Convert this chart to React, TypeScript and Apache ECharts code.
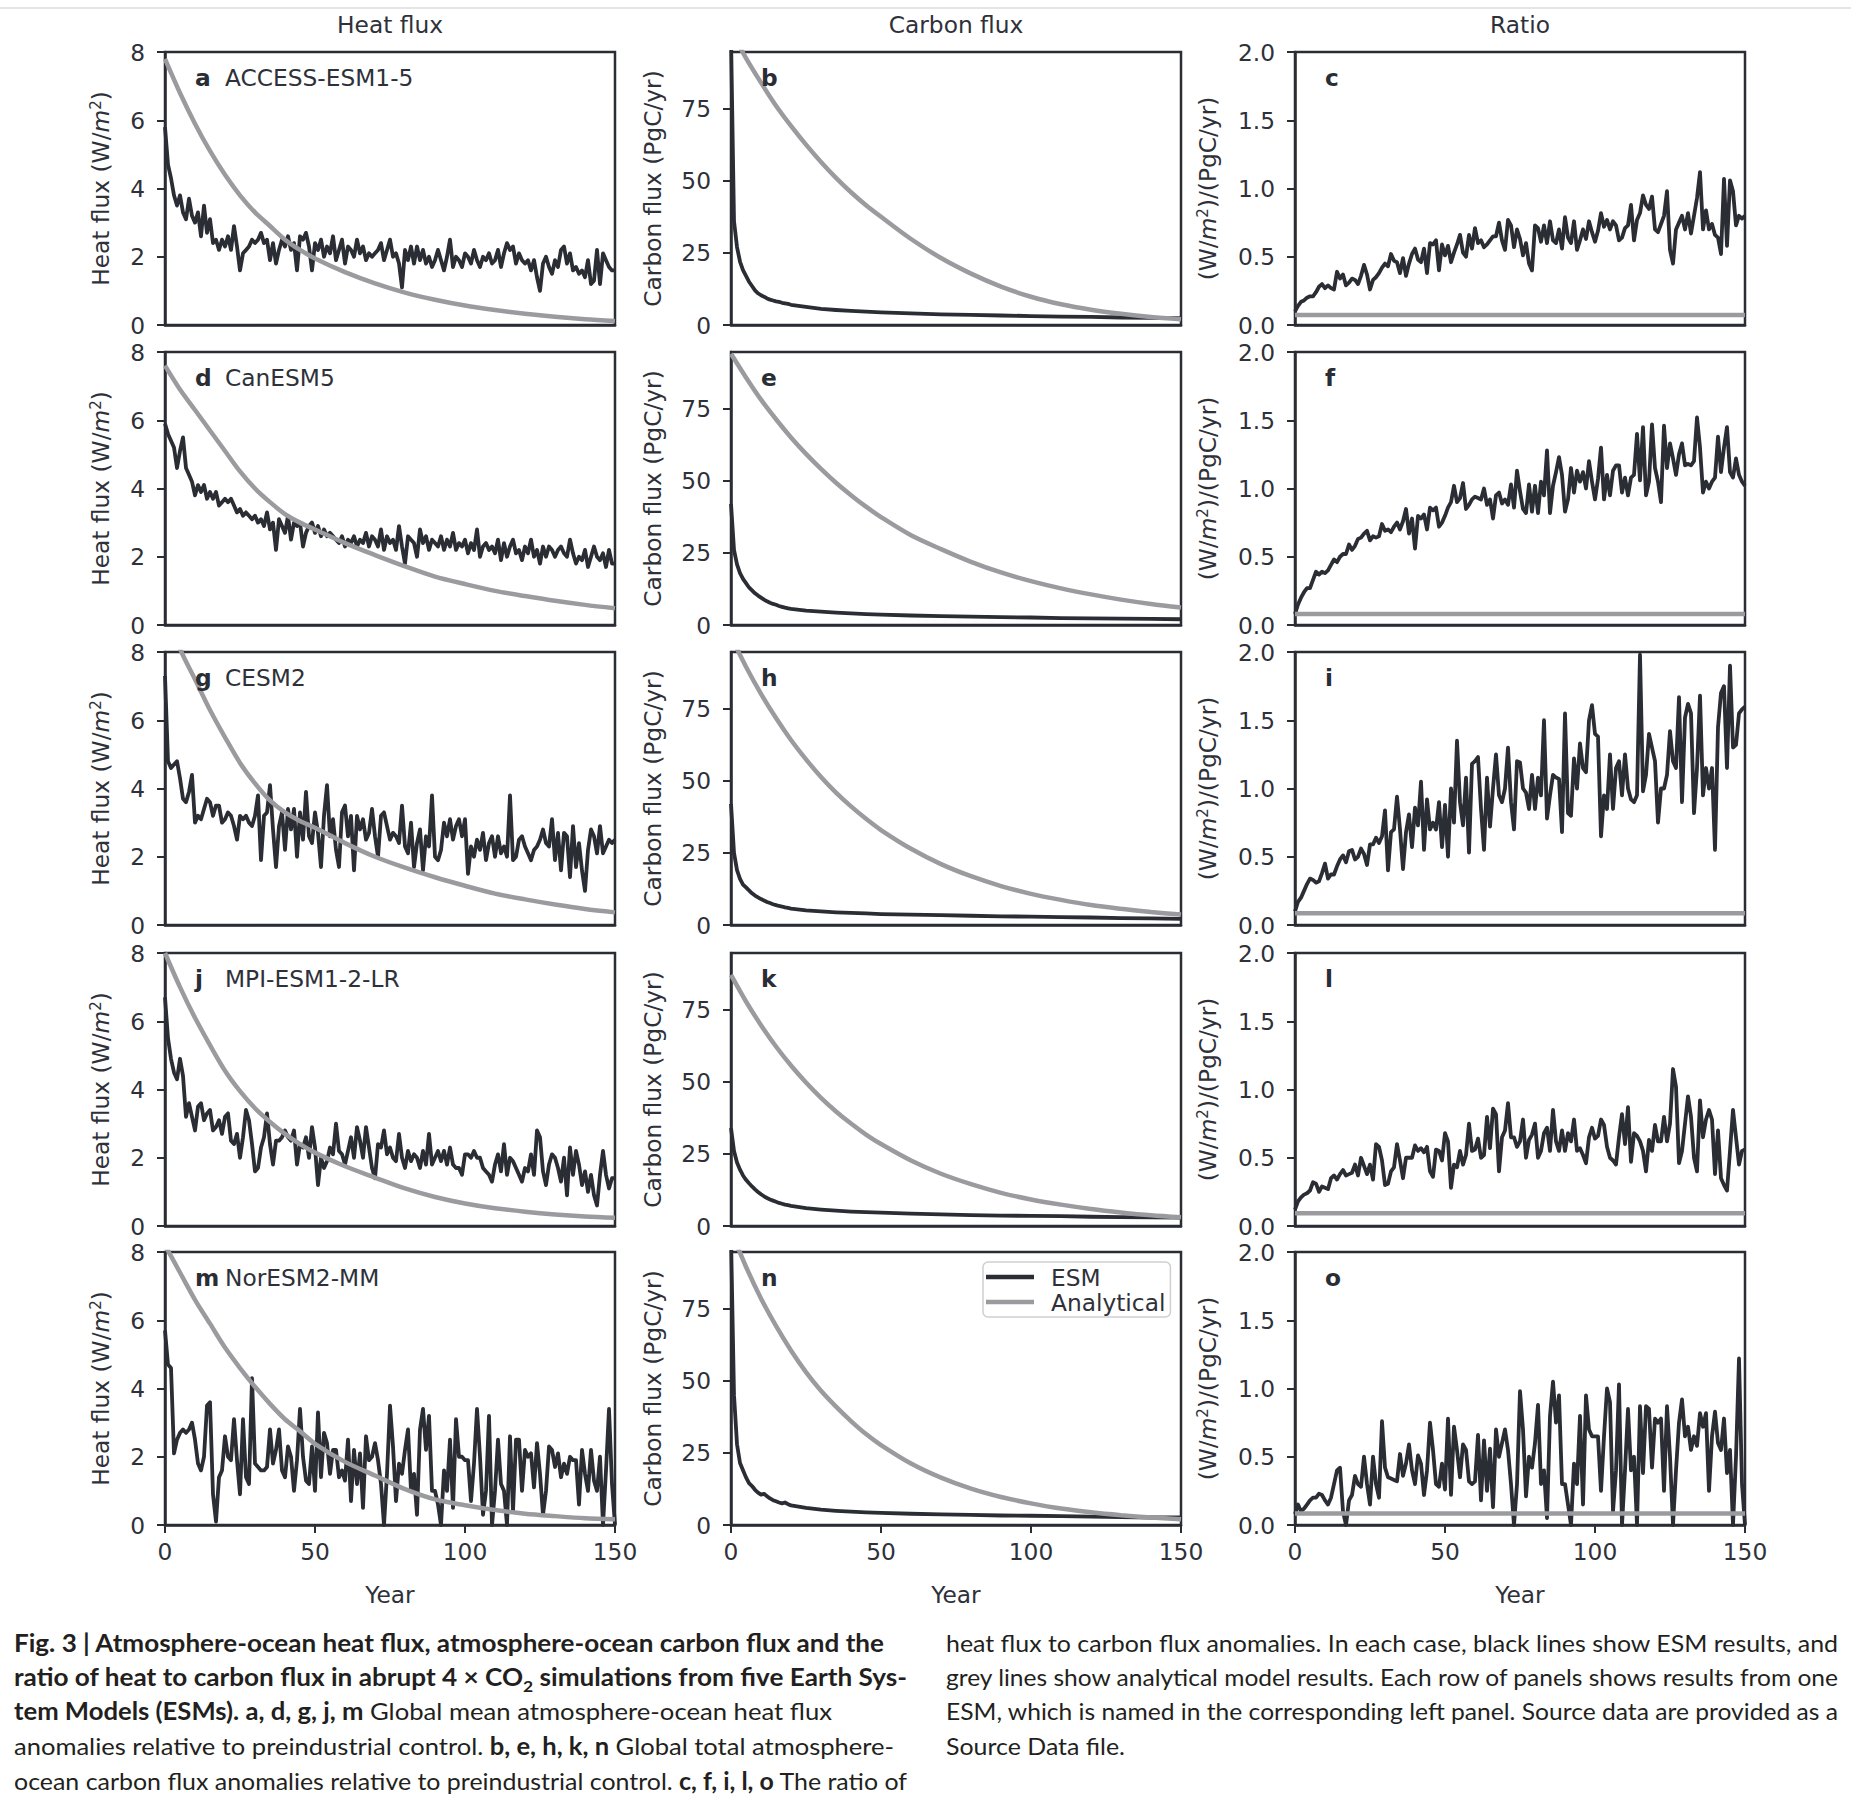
import React, { useEffect, useRef } from "react";
import * as echarts from "echarts";

// ---------- axis ticks ----------
const YEAR_TICKS = [0, 50, 100, 150];
const HEAT_TICKS = [0, 2, 4, 6, 8];
const CARBON_TICKS = [0, 25, 50, 75];
const RATIO_TICKS = [0, 0.5, 1.0, 1.5, 2.0];

// ---------- x positions ----------
const YEARS = Array.from({ length: 151 }, (_, i) => i);
const ANA_YEARS = [0, 5, 10, 15, 20, 25, 30, 35, 40, 45, 50, 60, 70, 80, 90, 100, 110, 120, 130, 140, 150];
const CARB_YEARS = [0, 1, 2, 3, 4, 5, 6, 7, 8, 9, 10, 11, 12, 13, 14, 15, 16, 17, 18, 19, 20, 25, 30, 35, 40, 45, 50, 60, 70, 80, 90, 100, 110, 120, 130, 140, 150];
const RATIO_ANA_YEARS = [0, 150];

// ---------- heat flux (W/m2), ESM ----------
const HEAT_ACCESS = [
  5.8, 4.7, 4.3, 3.8, 3.5, 3.8, 3.3, 3.1, 3.7, 3.2,
  3.0, 3.3, 2.6, 3.5, 2.7, 3.1, 2.4, 2.5, 2.2, 2.5,
  2.3, 2.6, 2.2, 2.9, 2.3, 1.6, 2.1, 2.2, 2.3, 2.5,
  2.4, 2.5, 2.7, 2.4, 2.5, 1.9, 2.4, 1.8, 2.2, 2.5,
  2.3, 2.6, 2.2, 2.4, 1.6, 2.6, 2.5, 2.7, 2.3, 1.6,
  2.4, 2.2, 2.5, 2.0, 2.3, 2.1, 2.6, 1.9, 2.2, 2.5,
  1.8, 2.3, 2.2, 2.0, 2.5, 2.1, 2.3, 1.9, 2.1, 2.0,
  2.1, 2.2, 2.4, 1.9, 2.2, 2.5, 2.0, 2.1, 1.8, 1.1,
  2.2, 1.9, 2.3, 1.8, 2.3, 1.9, 2.2, 1.8, 2.0, 1.7,
  1.9, 2.2, 1.9, 1.6, 2.0, 2.5, 1.7, 2.0, 1.9, 1.7,
  2.1, 2.0, 1.8, 2.2, 1.9, 1.7, 2.0, 1.9, 2.1, 1.8,
  1.9, 2.2, 1.7, 2.1, 2.4, 2.2, 2.3, 1.8, 2.1, 1.9,
  1.8, 1.9, 1.6, 1.9, 1.4, 1.0, 1.8, 2.0, 1.7, 1.5,
  1.9, 1.7, 2.2, 2.3, 1.8, 2.1, 1.6, 1.7, 1.5, 1.6,
  1.4, 1.9, 1.2, 1.3, 2.2, 1.2, 2.1, 1.9, 1.7, 1.6,
  1.6,
];
const HEAT_CAN = [
  5.9, 5.6, 5.4, 5.2, 4.6, 5.1, 5.5, 4.6, 4.4, 4.2,
  3.8, 4.1, 3.9, 4.1, 3.7, 3.9, 3.7, 3.9, 3.5, 3.6,
  3.7, 3.6, 3.7, 3.5, 3.3, 3.4, 3.2, 3.3, 3.2, 3.1,
  3.2, 3.0, 3.1, 2.9, 3.3, 2.8, 3.0, 2.2, 3.1, 2.9,
  2.7, 3.2, 2.5, 3.0, 2.9, 3.0, 2.3, 2.7, 2.9, 3.0,
  2.7, 2.9, 2.6, 2.8, 2.6, 2.7, 2.6, 2.5, 2.4, 2.6,
  2.3, 2.5, 2.4, 2.6, 2.3, 2.5, 2.4, 2.7, 2.3, 2.6,
  2.5, 2.3, 2.8, 2.2, 2.6, 2.4, 2.5, 2.2, 2.9, 2.3,
  1.8, 2.6, 2.5, 2.4, 2.0, 2.8, 2.4, 2.6, 2.2, 2.5,
  2.4, 2.3, 2.6, 2.2, 2.5, 2.3, 2.7, 2.2, 2.4, 2.3,
  2.5, 2.1, 2.4, 2.2, 2.8, 2.0, 2.3, 2.4, 2.2, 2.3,
  2.1, 2.5, 1.9, 2.4, 2.0, 2.3, 2.5, 2.1, 2.2, 1.9,
  2.3, 2.1, 2.5, 2.0, 2.2, 1.8, 2.3, 2.0, 2.3, 2.2,
  2.0, 2.2, 2.3, 2.1, 2.0, 2.5, 2.1, 1.8, 2.0, 1.9,
  2.2, 1.7, 2.0, 2.3, 2.0, 1.9, 2.1, 1.7, 2.2, 1.8,
  1.8,
];
const HEAT_CESM = [
  7.3, 4.8, 4.6, 4.7, 4.8, 4.3, 3.7, 3.6, 3.9, 4.4,
  3.0, 3.2, 3.1, 3.4, 3.7, 3.6, 3.2, 3.5, 3.5, 3.0,
  3.1, 3.3, 3.2, 2.9, 2.5, 3.2, 3.1, 3.2, 3.0, 2.9,
  3.2, 3.8, 1.9, 3.2, 3.3, 4.1, 2.8, 1.7, 2.9, 3.3,
  2.2, 3.4, 2.8, 3.4, 2.0, 3.3, 2.5, 3.9, 2.6, 2.4,
  3.3, 2.7, 1.7, 3.2, 4.1, 2.6, 3.1, 2.2, 1.7, 3.3,
  3.5, 2.6, 3.2, 1.6, 3.2, 2.8, 3.1, 2.5, 2.7, 3.4,
  2.6, 2.0, 3.2, 3.3, 2.9, 2.5, 2.7, 2.6, 2.4, 3.5,
  2.3, 2.1, 3.0, 1.7, 2.4, 2.8, 1.6, 2.6, 2.3, 3.8,
  2.0, 1.9, 2.2, 3.0, 2.6, 3.1, 2.5, 2.9, 3.1, 2.6,
  3.1, 1.5, 2.3, 2.0, 2.5, 2.2, 2.7, 1.9, 2.4, 2.6,
  2.0, 2.6, 2.1, 2.3, 2.0, 3.8, 1.9, 2.0, 2.5, 2.6,
  2.3, 2.1, 1.9, 2.2, 2.3, 2.5, 2.8, 2.4, 2.3, 3.1,
  1.9, 2.7, 1.6, 2.7, 2.6, 1.4, 2.9, 1.7, 2.4, 1.6,
  1.0, 2.2, 2.8, 2.6, 2.1, 2.9, 2.1, 2.3, 2.5, 2.4,
  2.5,
];
const HEAT_MPI = [
  6.7, 5.5, 4.9, 4.5, 4.3, 4.9, 4.4, 3.2, 3.6, 3.2,
  2.8, 3.5, 3.6, 3.1, 3.3, 3.4, 2.8, 2.9, 3.1, 2.7,
  3.2, 3.3, 2.5, 2.4, 2.7, 2.0, 2.6, 3.4, 3.1, 2.4,
  1.6, 1.7, 2.3, 2.6, 3.3, 2.4, 1.8, 2.5, 2.5, 2.6,
  2.8, 2.6, 2.5, 2.8, 1.8, 2.4, 2.3, 2.6, 2.0, 2.9,
  2.3, 1.2, 2.0, 1.7, 1.9, 2.3, 2.1, 3.0, 2.2, 2.1,
  1.8, 2.2, 2.6, 2.0, 2.9, 2.5, 2.0, 2.9, 2.3, 1.7,
  1.4, 2.4, 2.3, 2.8, 2.1, 2.3, 2.0, 1.9, 2.7, 2.0,
  1.7, 2.2, 1.9, 2.1, 2.0, 1.7, 2.2, 1.8, 2.7, 1.8,
  2.0, 2.2, 1.9, 2.2, 1.8, 2.3, 1.8, 1.7, 1.7, 1.5,
  2.1, 2.1, 2.0, 2.2, 2.0, 2.0, 1.7, 1.6, 1.5, 1.3,
  1.8, 2.1, 1.6, 2.4, 1.5, 2.0, 1.9, 1.7, 1.5, 1.3,
  1.7, 1.6, 2.1, 1.5, 2.8, 2.6, 1.6, 1.2, 1.8, 2.1,
  2.0, 1.7, 1.3, 2.0, 0.9, 2.3, 1.5, 2.2, 1.8, 1.2,
  1.6, 1.0, 1.5, 0.9, 0.6, 1.5, 2.2, 1.5, 1.1, 1.4,
  1.4,
];
const HEAT_NOR = [
  5.7, 4.7, 4.6, 2.1, 2.5, 2.7, 2.8, 2.7, 2.8, 3.0,
  2.5, 1.8, 1.6, 2.0, 3.5, 3.6, 0.9, 0.1, 1.4, 1.6,
  2.6, 2.0, 1.9, 3.1, 1.9, 0.9, 3.1, 1.4, 1.2, 4.3,
  1.8, 1.7, 1.6, 1.6, 1.7, 2.8, 1.8, 2.2, 2.8, 1.6,
  1.4, 2.3, 2.0, 1.0, 1.9, 3.4, 2.0, 1.3, 1.2, 2.3,
  1.0, 3.3, 1.4, 2.7, 2.4, 1.5, 2.2, 2.2, 1.4, 1.6,
  1.3, 2.5, 0.7, 2.2, 1.2, 2.1, 0.5, 2.6, 1.9, 2.0,
  2.4, 1.9, 1.2, 0.0, 1.5, 3.5, 2.3, 0.7, 1.8, 1.5,
  2.2, 2.8, 1.0, 1.5, 0.3, 2.8, 3.4, 2.2, 3.2, 1.0,
  1.0, 0.6, 0.0, 1.6, 1.0, 2.5, 0.5, 3.1, 2.0, 2.0,
  1.9, 1.9, 0.7, 1.8, 3.4, 2.0, 0.3, 1.0, 3.2, 0.0,
  1.0, 2.5, 1.2, 1.0, 0.0, 2.6, 0.4, 2.5, 2.5, 1.0,
  2.2, 2.0, 2.1, 1.1, 2.4, 1.5, 0.3, 1.0, 2.3, 2.2,
  1.7, 2.1, 1.4, 1.8, 1.5, 2.0, 1.9, 1.9, 0.6, 2.2,
  1.5, 1.0, 2.2, 1.3, 1.0, 2.0, 0.0, 1.6, 3.4, 1.2,
  0.0,
];

// ---------- heat flux, analytical ----------
const HEAT_ANA_ACCESS = [7.8, 6.8, 5.9, 5.1, 4.4, 3.8, 3.3, 2.9, 2.5, 2.2, 1.95, 1.55, 1.22, 0.95, 0.74, 0.57, 0.44, 0.33, 0.24, 0.17, 0.12];
const HEAT_ANA_CAN = [7.6, 6.9, 6.3, 5.7, 5.1, 4.5, 4.0, 3.6, 3.25, 3.0, 2.8, 2.4, 2.05, 1.72, 1.42, 1.2, 1.0, 0.85, 0.71, 0.59, 0.49];
const HEAT_ANA_CESM = [9.4, 8.1, 7.2, 6.3, 5.5, 4.75, 4.15, 3.65, 3.3, 3.05, 2.85, 2.4, 2.0, 1.68, 1.4, 1.15, 0.92, 0.75, 0.6, 0.47, 0.37];
const HEAT_ANA_MPI = [8.0, 7.0, 6.1, 5.3, 4.55, 3.95, 3.45, 3.05, 2.7, 2.4, 2.15, 1.75, 1.42, 1.1, 0.85, 0.66, 0.52, 0.42, 0.34, 0.28, 0.24];
const HEAT_ANA_NOR = [8.2, 7.4, 6.6, 5.9, 5.2, 4.6, 4.05, 3.55, 3.1, 2.75, 2.38, 1.85, 1.45, 1.05, 0.75, 0.58, 0.44, 0.33, 0.26, 0.2, 0.17];

// ---------- carbon flux (PgC/yr), ESM ----------
const CARBON_ACCESS = [100, 36, 27, 22, 19, 17, 15, 13.5, 12, 11, 10.3, 9.8, 9.2, 8.8, 8.5, 8.2, 8.0, 7.7, 7.5, 7.3, 7.0, 6.3, 5.6, 5.2, 4.9, 4.6, 4.4, 4.0, 3.7, 3.5, 3.3, 3.1, 2.9, 2.8, 2.6, 2.5, 2.4];
const CARBON_CAN = [42, 26, 21, 18, 16, 14.5, 13, 12, 11, 10.2, 9.5, 8.8, 8.2, 7.7, 7.3, 7.0, 6.6, 6.3, 6.0, 5.8, 5.6, 5.0, 4.6, 4.3, 4.0, 3.8, 3.6, 3.3, 3.1, 2.9, 2.7, 2.6, 2.4, 2.3, 2.2, 2.1, 2.0];
const CARBON_CESM = [42, 25, 19, 16, 14, 13, 12, 11, 10.2, 9.6, 9.0, 8.5, 8.0, 7.6, 7.2, 6.9, 6.6, 6.4, 6.1, 5.9, 5.7, 5.1, 4.7, 4.4, 4.2, 4.0, 3.8, 3.6, 3.4, 3.2, 3.0, 2.9, 2.7, 2.6, 2.4, 2.3, 2.1];
const CARBON_MPI = [34, 26, 22, 19.5, 17.5, 16, 14.8, 13.7, 12.7, 11.8, 11.0, 10.3, 9.7, 9.2, 8.8, 8.4, 8.0, 7.7, 7.4, 7.2, 7.0, 6.2, 5.7, 5.3, 5.0, 4.8, 4.6, 4.3, 4.0, 3.8, 3.6, 3.5, 3.4, 3.2, 3.1, 3.0, 2.9];
const CARBON_NOR = [100, 45, 28, 21.5, 19, 16.5, 14.5, 13.5, 12.2, 11.2, 10.5, 10.8, 10.0, 9.2, 8.6, 8.2, 7.8, 7.5, 7.8, 7.2, 6.8, 5.9, 5.3, 4.9, 4.6, 4.4, 4.2, 3.9, 3.7, 3.5, 3.3, 3.2, 3.1, 2.9, 2.7, 2.6, 2.6];

// ---------- carbon flux, analytical ----------
const CARBON_ANA_ACCESS = [102, 92.5, 84, 76, 69, 62.5, 56.5, 51, 46, 41.5, 37.5, 29.8, 23.2, 17.8, 13.3, 9.8, 7.2, 5.3, 3.9, 2.8, 2.0];
const CARBON_ANA_CAN = [94, 85.8, 78.1, 71.3, 65.0, 59.3, 54.1, 49.3, 45.0, 41.0, 37.4, 31.1, 26.3, 21.9, 18.2, 15.2, 12.7, 10.6, 8.8, 7.3, 6.1];
const CARBON_ANA_CESM = [100, 89.5, 80.1, 71.7, 64.1, 57.4, 51.3, 45.9, 41.1, 36.8, 32.9, 26.4, 21.1, 16.9, 13.5, 10.8, 8.7, 6.9, 5.6, 4.5, 3.6];
const CARBON_ANA_MPI = [87, 77.8, 69.6, 62.2, 55.6, 49.7, 44.4, 39.7, 35.5, 31.7, 28.4, 22.7, 18.1, 14.5, 11.5, 9.2, 7.4, 5.9, 4.7, 3.7, 3.0];
const CARBON_ANA_NOR = [102, 89.5, 78.5, 69, 60.5, 53, 46.5, 41, 36, 31.5, 27.7, 21.3, 16.4, 12.6, 9.7, 7.5, 5.7, 4.4, 3.4, 2.6, 2.0];

// ---------- ratio, ESM ----------
const RATIO_ACCESS = [
  0.10, 0.14, 0.17, 0.18, 0.20, 0.21, 0.21, 0.24, 0.28, 0.30,
  0.27, 0.29, 0.27, 0.26, 0.39, 0.34, 0.37, 0.29, 0.31, 0.34,
  0.33, 0.30, 0.36, 0.44, 0.37, 0.26, 0.33, 0.35, 0.38, 0.42,
  0.45, 0.43, 0.52, 0.47, 0.46, 0.38, 0.49, 0.36, 0.45, 0.52,
  0.56, 0.48, 0.46, 0.56, 0.38, 0.60, 0.59, 0.62, 0.40, 0.59,
  0.51, 0.58, 0.46, 0.53, 0.59, 0.66, 0.53, 0.50, 0.66, 0.56,
  0.71, 0.60, 0.62, 0.57, 0.59, 0.62, 0.65, 0.65, 0.75, 0.62,
  0.55, 0.77, 0.73, 0.57, 0.70, 0.63, 0.51, 0.60, 0.45, 0.40,
  0.73, 0.71, 0.61, 0.73, 0.60, 0.76, 0.62, 0.60, 0.70, 0.56,
  0.79, 0.64, 0.60, 0.76, 0.55, 0.62, 0.70, 0.63, 0.76, 0.68,
  0.61, 0.69, 0.82, 0.72, 0.77, 0.70, 0.76, 0.73, 0.62, 0.64,
  0.71, 0.73, 0.88, 0.62, 0.77, 0.82, 0.95, 0.88, 0.85, 0.94,
  0.70, 0.68, 0.74, 0.80, 0.98, 0.55, 0.45, 0.70, 0.75, 0.80,
  0.70, 0.82, 0.67, 0.80, 0.93, 1.12, 0.70, 0.84, 0.70, 0.74,
  0.66, 0.64, 0.52, 1.07, 0.58, 1.06, 0.98, 0.73, 0.80, 0.78,
  0.80,
];
const RATIO_CAN = [
  0.08, 0.15, 0.20, 0.24, 0.27, 0.27, 0.33, 0.39, 0.37, 0.39,
  0.38, 0.40, 0.44, 0.48, 0.46, 0.50, 0.52, 0.52, 0.59, 0.55,
  0.58, 0.63, 0.64, 0.67, 0.69, 0.62, 0.65, 0.64, 0.65, 0.74,
  0.69, 0.70, 0.68, 0.72, 0.75, 0.70, 0.76, 0.85, 0.67, 0.78,
  0.56, 0.80, 0.78, 0.81, 0.70, 0.86, 0.84, 0.86, 0.72, 0.75,
  0.80, 0.86, 0.90, 1.02, 0.90, 0.93, 1.04, 0.85, 0.88, 0.92,
  0.94, 0.93, 0.92, 1.00, 0.88, 0.92, 0.78, 0.95, 0.97, 0.89,
  0.92, 0.88, 1.03, 0.86, 1.13, 0.98, 0.85, 0.82, 1.03, 0.83,
  1.02, 0.82, 1.05, 0.95, 1.28, 0.82, 1.02, 1.12, 1.23, 1.10,
  0.83, 0.92, 1.15, 0.97, 1.13, 1.05, 1.12, 1.00, 1.20, 1.05,
  0.92, 1.07, 1.30, 0.92, 1.10, 0.95, 1.13, 1.17, 1.17, 0.97,
  1.08, 0.95, 1.08, 1.10, 1.40, 1.06, 1.45, 0.95, 1.05, 1.47,
  1.15, 1.05, 0.90, 1.46, 1.15, 1.33, 1.22, 1.10, 1.25, 1.33,
  1.17, 1.18, 1.17, 1.20, 1.52, 1.30, 0.97, 1.05, 1.00, 1.05,
  1.08, 1.38, 1.12, 1.30, 1.45, 1.12, 1.08, 1.22, 1.10, 1.05,
  1.02,
];
const RATIO_CESM = [
  0.10, 0.17, 0.20, 0.25, 0.30, 0.34, 0.33, 0.31, 0.32, 0.38,
  0.45, 0.34, 0.37, 0.37, 0.43, 0.48, 0.51, 0.46, 0.54, 0.55,
  0.48, 0.50, 0.56, 0.52, 0.44, 0.59, 0.59, 0.64, 0.60, 0.65,
  0.84, 0.40, 0.68, 0.70, 0.94, 0.70, 0.41, 0.68, 0.81, 0.57,
  0.86, 0.73, 1.05, 0.55, 0.92, 0.70, 0.75, 0.70, 0.90, 0.57,
  0.88, 0.50, 1.00, 0.75, 1.35, 0.90, 0.73, 1.08, 0.53, 1.18,
  1.20, 1.23, 0.85, 0.55, 1.08, 0.72, 1.00, 1.25, 0.95, 0.90,
  1.00, 1.30, 0.90, 0.70, 1.20, 1.19, 1.00, 0.97, 0.85, 1.10,
  0.85, 1.08, 0.95, 1.50, 0.78, 0.95, 1.10, 1.08, 1.07, 0.68,
  1.55, 0.82, 0.80, 1.22, 1.00, 1.33, 1.15, 1.12, 1.50, 1.61,
  1.40, 1.38, 0.65, 0.95, 0.85, 1.25, 0.85, 1.15, 1.20, 0.95,
  1.25, 1.00, 0.92, 0.90, 0.95, 1.98, 0.98, 1.10, 1.40, 1.30,
  1.20, 0.75, 1.00, 1.00, 1.10, 1.42, 1.20, 1.15, 1.67, 0.90,
  1.52, 1.62, 1.55, 0.82, 1.15, 1.68, 0.95, 1.15, 1.00, 1.15,
  0.55, 1.45, 1.70, 1.75, 1.15, 1.90, 1.30, 1.32, 1.55, 1.58,
  1.60,
];
const RATIO_MPI = [
  0.12, 0.18, 0.21, 0.23, 0.24, 0.26, 0.32, 0.31, 0.25, 0.29,
  0.28, 0.27, 0.35, 0.37, 0.34, 0.38, 0.41, 0.37, 0.38, 0.39,
  0.45, 0.37, 0.50, 0.44, 0.38, 0.45, 0.34, 0.60, 0.58, 0.48,
  0.30, 0.31, 0.40, 0.43, 0.60, 0.48, 0.35, 0.50, 0.50, 0.50,
  0.59, 0.55, 0.57, 0.54, 0.58, 0.40, 0.36, 0.56, 0.55, 0.48,
  0.68, 0.62, 0.28, 0.45, 0.43, 0.55, 0.45, 0.52, 0.75, 0.55,
  0.56, 0.64, 0.50, 0.52, 0.80, 0.57, 0.86, 0.82, 0.40, 0.65,
  0.70, 0.90, 0.65, 0.65, 0.58, 0.62, 0.78, 0.50, 0.63, 0.67,
  0.75, 0.50, 0.55, 0.68, 0.72, 0.55, 0.85, 0.62, 0.55, 0.70,
  0.55, 0.68, 0.62, 0.78, 0.55, 0.57, 0.52, 0.46, 0.65, 0.72,
  0.64, 0.66, 0.78, 0.74, 0.58, 0.50, 0.48, 0.45, 0.65, 0.82,
  0.60, 0.87, 0.47, 0.68, 0.66, 0.62, 0.55, 0.40, 0.63, 0.55,
  0.74, 0.62, 0.62, 0.80, 0.62, 0.75, 1.15, 1.02, 0.46, 0.55,
  0.75, 0.95, 0.80, 0.50, 0.40, 0.92, 0.65, 0.78, 0.85, 0.78,
  0.38, 0.70, 0.35, 0.30, 0.26, 0.55, 0.85, 0.65, 0.45, 0.55,
  0.56,
];
const RATIO_NOR = [
  0.08, 0.15, 0.10, 0.12, 0.15, 0.18, 0.20, 0.20, 0.23, 0.22,
  0.18, 0.15, 0.20, 0.30, 0.40, 0.42, 0.10, 0.00, 0.18, 0.22,
  0.36, 0.30, 0.28, 0.50, 0.30, 0.15, 0.50, 0.30, 0.20, 0.76,
  0.42, 0.35, 0.34, 0.33, 0.32, 0.52, 0.36, 0.45, 0.59, 0.40,
  0.30, 0.51, 0.45, 0.22, 0.40, 0.75, 0.55, 0.30, 0.28, 0.45,
  0.26, 0.78, 0.22, 0.72, 0.55, 0.35, 0.59, 0.55, 0.32, 0.30,
  0.32, 0.66, 0.18, 0.62, 0.25, 0.56, 0.13, 0.70, 0.50, 0.60,
  0.70, 0.55, 0.30, 0.00, 0.30, 0.98, 0.70, 0.21, 0.50, 0.42,
  0.60, 0.88, 0.30, 0.40, 0.05, 0.80, 1.05, 0.75, 0.95, 0.30,
  0.30, 0.15, 0.00, 0.45, 0.30, 0.80, 0.15, 0.95, 0.70, 0.65,
  0.65, 0.65, 0.25, 0.65, 1.00, 0.90, 0.10, 0.40, 1.03, 0.00,
  0.40, 0.85, 0.40, 0.50, 0.00, 0.87, 0.38, 0.87, 0.85, 0.42,
  0.78, 0.75, 0.78, 0.25, 0.87, 0.50, 0.00, 0.40, 0.75, 0.92,
  0.65, 0.72, 0.55, 0.65, 0.58, 0.82, 0.72, 0.82, 0.25, 0.65,
  0.83, 0.60, 0.55, 0.78, 0.38, 0.55, 0.00, 0.50, 1.22, 0.30,
  0.00,
];

// ---------- ratio, analytical (constant) ----------
const RATIO_ANA_ACCESS = [0.074, 0.074];
const RATIO_ANA_CAN = [0.08, 0.08];
const RATIO_ANA_CESM = [0.086, 0.086];
const RATIO_ANA_MPI = [0.093, 0.093];
const RATIO_ANA_NOR = [0.085, 0.085];

const MODELS = ["ACCESS-ESM1-5", "CanESM5", "CESM2", "MPI-ESM1-2-LR", "NorESM2-MM"];
const LETTERS = [["a", "b", "c"], ["d", "e", "f"], ["g", "h", "i"], ["j", "k", "l"], ["m", "n", "o"]];
const COLUMN_TITLES = ["Heat flux", "Carbon flux", "Ratio"];

const ROW_DATA = [
  { heat: HEAT_ACCESS, heatAna: HEAT_ANA_ACCESS, carb: CARBON_ACCESS, carbAna: CARBON_ANA_ACCESS, ratio: RATIO_ACCESS, ratioAna: RATIO_ANA_ACCESS },
  { heat: HEAT_CAN, heatAna: HEAT_ANA_CAN, carb: CARBON_CAN, carbAna: CARBON_ANA_CAN, ratio: RATIO_CAN, ratioAna: RATIO_ANA_CAN },
  { heat: HEAT_CESM, heatAna: HEAT_ANA_CESM, carb: CARBON_CESM, carbAna: CARBON_ANA_CESM, ratio: RATIO_CESM, ratioAna: RATIO_ANA_CESM },
  { heat: HEAT_MPI, heatAna: HEAT_ANA_MPI, carb: CARBON_MPI, carbAna: CARBON_ANA_MPI, ratio: RATIO_MPI, ratioAna: RATIO_ANA_MPI },
  { heat: HEAT_NOR, heatAna: HEAT_ANA_NOR, carb: CARBON_NOR, carbAna: CARBON_ANA_NOR, ratio: RATIO_NOR, ratioAna: RATIO_ANA_NOR },
];

// ---------- layout / style ----------
const DARK = "#2a2d34";
const GREY = "#9b9b9f";
const TXT = "#2e3139";
const FONT = "DejaVu Sans";
const FS = 23.3;
const GRID_LEFTS = [165, 731, 1295];
const GRID_TOPS = [52, 352, 652, 953, 1252];
const GW = 450;
const GH = 273;
const YNAME_X = [100, 652, 1207];

const pairs = (xs: number[], ys: number[]) => ys.map((v, i) => [xs[i], v]);

const richBase = {
  n: { fontSize: FS, fontFamily: FONT, fill: TXT },
  i: { fontSize: FS, fontFamily: FONT, fill: TXT, fontStyle: "italic" },
  s: { fontSize: 15, fontFamily: FONT, fill: TXT, verticalAlign: "top" },
};

function buildOption() {
  const grid: any[] = [];
  const xAxis: any[] = [];
  const yAxis: any[] = [];
  const series: any[] = [];
  const graphic: any[] = [];

  const colCfg = [
    { max: 8, interval: 2, ticks: HEAT_TICKS, fmt: (v: number) => String(v), name: "{n|Heat flux (W/}{i|m}{s|2}{n|)}" },
    { max: 94.6, interval: 25, ticks: CARBON_TICKS, fmt: (v: number) => (v % 25 === 0 ? String(v) : ""), name: "{n|Carbon flux (PgC/yr)}" },
    { max: 2, interval: 0.5, ticks: RATIO_TICKS, fmt: (v: number) => v.toFixed(1), name: "{n|(W/}{i|m}{s|2}{n|)/(PgC/yr)}" },
  ];

  ROW_DATA.forEach((row, r) => {
    for (let c = 0; c < 3; c++) {
      const idx = r * 3 + c;
      const left = GRID_LEFTS[c];
      const top = GRID_TOPS[r];
      const cfg = colCfg[c];
      const bottomRow = r === ROW_DATA.length - 1;
      grid.push({ left, top, width: GW, height: GH, show: true, borderColor: DARK, borderWidth: 2.5, backgroundColor: "transparent" });
      xAxis.push({
        gridIndex: idx, type: "value", min: 0, max: 150, interval: 50,
        axisLine: { show: true, onZero: false, lineStyle: { color: DARK, width: 2.5 } },
        axisTick: { show: bottomRow, length: 8, lineStyle: { color: DARK, width: 2 }, customValues: YEAR_TICKS },
        axisLabel: { show: bottomRow, fontSize: FS, fontFamily: FONT, color: TXT, margin: 15, customValues: YEAR_TICKS },
        splitLine: { show: false },
      });
      yAxis.push({
        gridIndex: idx, type: "value", min: 0, max: cfg.max, interval: cfg.interval,
        axisLine: { show: true, onZero: false, lineStyle: { color: DARK, width: 2.5 } },
        axisTick: { show: true, length: 8, lineStyle: { color: DARK, width: 2 }, customValues: cfg.ticks },
        axisLabel: { show: true, fontSize: FS, fontFamily: FONT, color: TXT, margin: 20, formatter: cfg.fmt, customValues: cfg.ticks },
        splitLine: { show: false },
      });
      let esm: number[][], ana: number[][];
      if (c === 0) { esm = pairs(YEARS, row.heat); ana = pairs(ANA_YEARS, row.heatAna); }
      else if (c === 1) { esm = pairs(CARB_YEARS, row.carb); ana = pairs(ANA_YEARS, row.carbAna); }
      else { esm = pairs(YEARS, row.ratio); ana = pairs(RATIO_ANA_YEARS, row.ratioAna); }
      series.push({
        type: "line", name: "ESM", xAxisIndex: idx, yAxisIndex: idx, data: esm,
        showSymbol: false, symbol: "none", color: DARK, lineStyle: { color: DARK, width: 3.8, join: "round" }, clip: true, silent: true, z: 2,
      });
      series.push({
        type: "line", name: "Analytical", xAxisIndex: idx, yAxisIndex: idx, data: ana,
        showSymbol: false, symbol: "none", smooth: c === 2 ? false : 0.3, color: GREY, lineStyle: { color: GREY, width: 4.5 }, clip: true, silent: true, z: 3,
      });

      graphic.push({ type: "text", x: left + 30, y: top + 25, z: 10, style: { text: LETTERS[r][c], fontSize: FS, fontFamily: FONT, fontWeight: "bold", fill: DARK, align: "left", verticalAlign: "middle" } });
      if (c === 0) {
        graphic.push({ type: "text", x: left + 60, y: top + 25, z: 10, style: { text: MODELS[r], fontSize: FS, fontFamily: FONT, fill: TXT, align: "left", verticalAlign: "middle" } });
      }
      graphic.push({
        type: "text", x: YNAME_X[c], y: top + GH / 2, rotation: Math.PI / 2, z: 10,
        style: { text: cfg.name, rich: richBase, fontSize: FS, fontFamily: FONT, fill: TXT, align: "center", verticalAlign: "middle" },
      });
    }
  });

  COLUMN_TITLES.forEach((t, c) => {
    graphic.push({ type: "text", x: GRID_LEFTS[c] + GW / 2, y: 24, style: { text: t, fontSize: FS, fontFamily: FONT, fill: TXT, align: "center", verticalAlign: "middle" } });
    graphic.push({ type: "text", x: GRID_LEFTS[c] + GW / 2, y: 1594, style: { text: "Year", fontSize: FS, fontFamily: FONT, fill: TXT, align: "center", verticalAlign: "middle" } });
  });
  graphic.push({ type: "line", shape: { x1: 0, y1: 8, x2: 1851, y2: 8 }, style: { stroke: "#dcdcdc", lineWidth: 1.5 } });

  return {
    animation: false,
    backgroundColor: "#ffffff",
    textStyle: { fontFamily: FONT },
    grid, xAxis, yAxis, series, graphic,
    legend: {
      show: true, data: ["ESM", "Analytical"], left: 983, top: 1262, orient: "vertical",
      icon: "rect", itemWidth: 48, itemHeight: 4.5, itemGap: 1, selectedMode: false,
      padding: [3, 5, 3, 3], borderColor: "#cfcfcf", borderWidth: 1.5, borderRadius: 5,
      backgroundColor: "rgba(255,255,255,0.85)",
      textStyle: { fontSize: FS, fontFamily: FONT, color: TXT, padding: [0, 0, 0, 12], lineHeight: 24 },
    },
  };
}

const CAP = { fontFamily: "Lato", fontSize: 24, fill: "#231f20" };

export default function App() {
  const ref = useRef<HTMLDivElement>(null);
  useEffect(() => {
    const chart = echarts.init(ref.current as HTMLDivElement, null, { renderer: "svg" });
    chart.setOption(buildOption() as any);
    return () => chart.dispose();
  }, []);
  return (
    <div style={{ position: "absolute", left: 0, top: 0, width: 1851, height: 1807, background: "#fff" }}>
      <div ref={ref} style={{ position: "absolute", left: 0, top: 0, width: 1851, height: 1620 }} />
      <svg width={1851} height={187} style={{ position: "absolute", left: 0, top: 1620 }}>
        <text x={14} y={32} textLength={870} lengthAdjust="spacingAndGlyphs" {...CAP} fontWeight="bold">
          Fig. 3 | Atmosphere-ocean heat flux, atmosphere-ocean carbon flux and the
        </text>
        <text x={14} y={66} textLength={893} lengthAdjust="spacingAndGlyphs" {...CAP} fontWeight="bold">
          <tspan>{"ratio of heat to carbon flux in abrupt 4 × CO"}</tspan>
          <tspan dy={6} fontSize={16}>2</tspan>
          <tspan dy={-6}>{" simulations from five Earth Sys-"}</tspan>
        </text>
        <text x={14} y={100} textLength={818} lengthAdjust="spacingAndGlyphs" {...CAP}>
          <tspan fontWeight="bold">{"tem Models (ESMs). a, d, g, j, m"}</tspan>
          <tspan>{" Global mean atmosphere-ocean heat flux"}</tspan>
        </text>
        <text x={14} y={135} textLength={880} lengthAdjust="spacingAndGlyphs" {...CAP}>
          <tspan>{"anomalies relative to preindustrial control. "}</tspan>
          <tspan fontWeight="bold">{"b, e, h, k, n"}</tspan>
          <tspan>{" Global total atmosphere-"}</tspan>
        </text>
        <text x={14} y={170} textLength={893} lengthAdjust="spacingAndGlyphs" {...CAP}>
          <tspan>{"ocean carbon flux anomalies relative to preindustrial control. "}</tspan>
          <tspan fontWeight="bold">{"c, f, i, l, o"}</tspan>
          <tspan>{" The ratio of"}</tspan>
        </text>
        <text x={946} y={32} textLength={892} lengthAdjust="spacingAndGlyphs" {...CAP}>
          heat flux to carbon flux anomalies. In each case, black lines show ESM results, and
        </text>
        <text x={946} y={66} textLength={892} lengthAdjust="spacingAndGlyphs" {...CAP}>
          grey lines show analytical model results. Each row of panels shows results from one
        </text>
        <text x={946} y={100} textLength={892} lengthAdjust="spacingAndGlyphs" {...CAP}>
          ESM, which is named in the corresponding left panel. Source data are provided as a
        </text>
        <text x={946} y={135} textLength={179} lengthAdjust="spacingAndGlyphs" {...CAP}>
          Source Data file.
        </text>
      </svg>
    </div>
  );
}
